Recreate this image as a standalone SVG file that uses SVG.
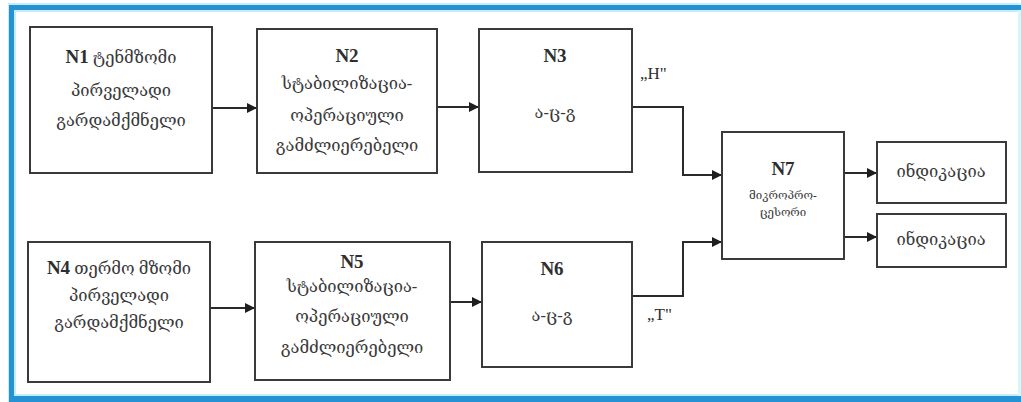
<svg xmlns="http://www.w3.org/2000/svg" width="1021" height="402" viewBox="0 0 1021 402">
<defs>
<style>
.box{fill:#ffffff;stroke:#3a3a3a;stroke-width:2}
.ln{fill:none;stroke:#2a2a2a;stroke-width:2}
.t{font-family:"Liberation Serif","DejaVu Serif",serif;fill:#3a3a3a;text-anchor:middle}
.n{font-weight:bold;font-size:19px;fill:#2e2e2e}
.g{font-size:16.5px}
.gs{font-size:11.5px}
.lbl{font-family:"Liberation Serif","DejaVu Serif",serif;font-size:17px;fill:#2e2e2e}
</style>
<marker id="ah" viewBox="0 0 10 10" refX="10" refY="5" markerWidth="10" markerHeight="10" markerUnits="userSpaceOnUse" orient="auto">
<path d="M0,0 L10,5 L0,10 z" fill="#1e1e1e"/>
</marker>
</defs>
<rect x="0" y="0" width="1021" height="402" fill="#ffffff"/>
<g id="frame">
<rect x="8" y="3" width="1013" height="9" fill="#c4ecfa"/>
<rect x="8" y="3" width="8" height="399" fill="#c4ecfa"/>
<rect x="8" y="394" width="1013" height="8" fill="#c4ecfa"/>
<rect x="1018" y="3" width="3" height="399" fill="#d6f6fc"/>
<rect x="9" y="5" width="1012" height="5" fill="#2593d3"/>
<rect x="9" y="5" width="5" height="397" fill="#2593d3"/>
<rect x="9" y="396" width="1012" height="6" fill="#2593d3"/>
</g>
<g id="connectors">
<line class="ln" x1="212" y1="108" x2="257" y2="108" marker-end="url(#ah)"/>
<line class="ln" x1="437" y1="107" x2="479" y2="107" marker-end="url(#ah)"/>
<polyline class="ln" points="632,107 683,107 683,175 722,175" marker-end="url(#ah)"/>
<line class="ln" x1="210" y1="308" x2="255" y2="308" marker-end="url(#ah)"/>
<line class="ln" x1="450" y1="302" x2="482" y2="302" marker-end="url(#ah)"/>
<polyline class="ln" points="632,296 683,296 683,242 722,242" marker-end="url(#ah)"/>
<line class="ln" x1="844" y1="173" x2="877" y2="173" marker-end="url(#ah)"/>
<line class="ln" x1="844" y1="237" x2="877" y2="237" marker-end="url(#ah)"/>
<text class="lbl" x="640" y="79">„H"</text>
<text class="lbl" x="647" y="320">„T"</text>
</g>
<g id="N1">
<rect class="box" x="30" y="27" width="182" height="146"/>
<text class="t" x="121" y="63"><tspan class="n">N1</tspan><tspan class="g"> ტენმზომი</tspan></text>
<text class="t g" x="121" y="96">პირველადი</text>
<text class="t g" x="121" y="126">გარდამქმნელი</text>
</g>
<g id="N2">
<rect class="box" x="257" y="29" width="180" height="144"/>
<text class="t n" x="347" y="62">N2</text>
<text class="t g" x="347" y="89">სტაბილიზაცია-</text>
<text class="t g" x="347" y="121">ოპერაციული</text>
<text class="t g" x="347" y="151">გამძლიერებელი</text>
</g>
<g id="N3">
<rect class="box" x="479" y="29" width="153" height="143"/>
<text class="t n" x="555" y="62">N3</text>
<text class="t g" x="555" y="118">ა-ც-გ</text>
</g>
<g id="N4">
<rect class="box" x="28" y="242" width="182" height="140"/>
<text class="t" x="119" y="274"><tspan class="n">N4</tspan><tspan class="g"> თერმო მზომი</tspan></text>
<text class="t g" x="119" y="301">პირველადი</text>
<text class="t g" x="119" y="328">გარდამქმნელი</text>
</g>
<g id="N5">
<rect class="box" x="255" y="242" width="195" height="138"/>
<text class="t n" x="352" y="268">N5</text>
<text class="t g" x="352" y="292">სტაბილიზაცია-</text>
<text class="t g" x="352" y="322">ოპერაციული</text>
<text class="t g" x="352" y="353">გამძლიერებელი</text>
</g>
<g id="N6">
<rect class="box" x="482" y="242" width="150" height="125"/>
<text class="t n" x="552" y="275">N6</text>
<text class="t g" x="552" y="321">ა-ც-გ</text>
</g>
<g id="N7">
<rect class="box" x="722" y="132" width="122" height="127"/>
<text class="t n" x="783" y="175">N7</text>
<text class="t gs" x="783" y="199">მიკროპრო-</text>
<text class="t gs" x="783" y="216">ცესორი</text>
</g>
<g id="I1">
<rect class="box" x="877" y="142" width="129" height="61"/>
<text class="t g" x="941" y="177">ინდიკაცია</text>
</g>
<g id="I2">
<rect class="box" x="877" y="214" width="129" height="53"/>
<text class="t g" x="941" y="245">ინდიკაცია</text>
</g>
</svg>
